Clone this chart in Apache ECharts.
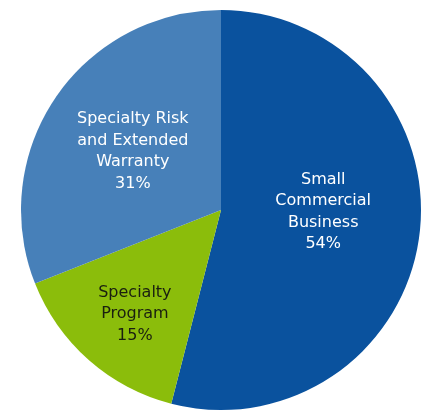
<!DOCTYPE html>
<html>
<head>
<meta charset="utf-8">
<script src="https://cdn.jsdelivr.net/npm/echarts@6/dist/echarts.min.js"></script>
<style>
html,body{margin:0;padding:0;background:#fff;}
#c{width:430px;height:410px;}
</style>
</head>
<body>
<div id="c"></div>
<script>
const categories = ["Small\nCommercial\nBusiness", "Specialty\nProgram", "Specialty Risk\nand Extended\nWarranty"];
const values = [54, 15, 31];
const colors = ["#0A529E", "#8BBD0B", "#4780B9"];
const labelColors = ["#FFFFFF", "#1A1F10", "#FFFFFF"];
const labelOffsets = [[0, -11], [-18, 27], [-3, -1]];

const chart = echarts.init(document.getElementById('c'));
chart.setOption({
  animation: false,
  series: [{
    type: 'pie',
    center: [221, 210],
    radius: [0, 200],
    startAngle: 90,
    clockwise: true,
    avoidLabelOverlap: false,
    data: categories.map((n, i) => ({
      name: n,
      value: values[i],
      itemStyle: { color: colors[i] },
      label: { color: labelColors[i], offset: labelOffsets[i] }
    })),
    itemStyle: { borderWidth: 0 },
    label: {
      show: true,
      position: 'inside',
      formatter: p => p.name + '\n' + p.value + '%',
      fontFamily: 'DejaVu Sans',
      fontSize: 16,
      lineHeight: 21.5,
      align: 'center'
    },
    labelLine: { show: false },
    emphasis: { disabled: true }
  }]
});
</script>
</body>
</html>
